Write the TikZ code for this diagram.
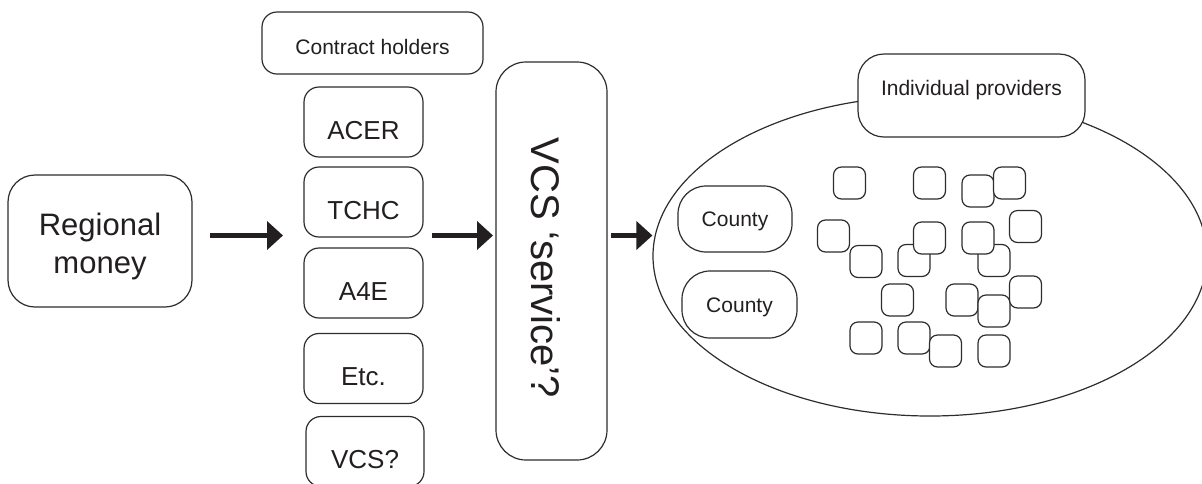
\documentclass[tikz,border=0pt]{standalone}
\usepackage{fontspec}
\setmainfont{Liberation Sans}
\usepackage{graphicx}
\usetikzlibrary{arrows.meta,shapes.geometric}
\definecolor{ink}{RGB}{35,31,32}
\definecolor{rim}{RGB}{45,45,45}
\newcommand{\sizeto}[1]{\fontsize{#1}{#1}\selectfont}
\tikzset{
  >={Triangle[length=16pt,width=28pt]},
  holder/.style={draw=rim,line width=1.2pt,fill=white,rounded corners=#1,
    inner sep=0pt,outer sep=0pt,text=ink},
  holder/.default=15pt,
  member/.style={holder,minimum width=119pt,minimum height=70pt,
    font=\sizeto{26},text height=34.6pt,text depth=0pt},
  pill/.style={holder=28pt,minimum width=114pt,minimum height=66pt,
    font=\sizeto{21},text height=15pt,text depth=0pt},
  cell/.style={holder=8pt,minimum size=32pt},
  flow/.style={->,draw=ink,line width=5pt},
}
\begin{document}
\begin{tikzpicture}[x=1pt,y=-1pt]
  \useasboundingbox (0,0) rectangle (1202,483);
  \coordinate (axis) at (0,235.5);
  % money in
  \node[holder=27pt,minimum width=184pt,minimum height=132pt,align=center,
    font=\fontsize{31}{38}\selectfont] (money) at (100,241) {\rule{0pt}{32.6pt}Regional\\money};
  % contract holders
  \node[holder,minimum width=221pt,minimum height=62pt,font=\sizeto{21},
    text height=22pt,text depth=0pt] (holders) at (372.5,43) {Contract holders};
  \node[member] (acer) at (363.5,122) {ACER};
  \node[member] (tchc) at (363.5,202) {TCHC};
  \node[member] (afe) at (363.5,283) {A4E};
  \node[member] (etc) at (363.5,368.5) {Etc.};
  \node[member,minimum width=118pt] (vcs) at (365,451.5) {VCS?};
  % the service
  \node[holder=30pt,minimum width=111pt,minimum height=398pt,font=\sizeto{40}]
    (service) at (551.5,261) {\rotatebox{-90}{\rule{0pt}{40pt}\hspace*{14pt}VCS `service'?}};
  % providers
  \node[ellipse,draw=rim,line width=1.2pt,minimum width=554pt,minimum height=320pt,
    inner sep=0pt] (area) at (930,256) {};
  \node[holder=26pt,minimum width=227pt,minimum height=83pt,font=\sizeto{21},
    text height=0pt,text depth=0pt] (providers) at (971.5,95.5) {Individual providers};
  \node[pill] (county1) at (735,219) {County};
  \node[pill,minimum width=115pt,minimum height=67pt] (county2) at (739.5,304.5) {County};
  \foreach \x/\y [count=\i] in {849.5/183,929.5/183,978/191,1009.5/183,833.5/236,
      914/260.5,994/260.5,929.5/238,978/238,1025.5/226.5,866/261.5,897.5/300,
      962/300,994/311,1025.5/292,866/338,914/338,945.5/351,994/351}
    \node[cell] (c\i) at (\x,\y) {};
  % flows
  \draw[flow,shorten <=18pt,shorten >=21pt] (money.east |- axis) -- (tchc.west |- axis);
  \draw[flow,shorten <=9pt,shorten >=3pt] (tchc.east |- axis) -- (service.west |- axis);
  \draw[flow,shorten <=4pt] (service.east |- axis) -- (area.west |- axis);
\end{tikzpicture}
\end{document}
